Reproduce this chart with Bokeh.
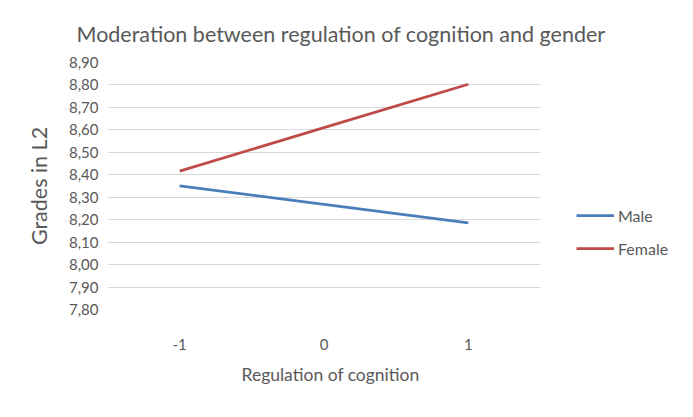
from bokeh.plotting import figure
from bokeh.models import (Range1d, FixedTicker, CustomJSTickFormatter,
                          Legend, LegendItem, BoxAnnotation, Title)
from bokeh.embed import file_html
from bokeh.resources import INLINE

x_values = [-1, 0, 1]
x_labels = ["-1", "0", "1"]
male = [8.351, 8.268, 8.186]
female = [8.416, 8.610, 8.803]
y_ticks = [7.80, 7.90, 8.00, 8.10, 8.20, 8.30, 8.40, 8.50, 8.60, 8.70, 8.80, 8.90]
title_text = "Moderation between regulation of cognition and gender"
x_title = "Regulation of cognition"
y_title = "Grades in L2"

FONT = "Lato"
TXT = "#595959"

# category slots: -1.5 .. 1.5 is the plotting area; the frame is extended
# to the right (up to 2.449) only to host the legend.
p = figure(width=677, height=401, output_backend="svg", toolbar_location=None,
           x_range=Range1d(-1.5, 2.449),
           y_range=Range1d(y_ticks[0], y_ticks[-1]),
           min_border_left=107, min_border_right=0,
           min_border_top=62, min_border_bottom=92)
p.outline_line_color = None
p.background_fill_color = "white"
p.border_fill_color = "white"

p.title.text = title_text
p.title.align = "left"
p.title.text_font = FONT
p.title.text_font_size = "21.5px"
p.title.text_font_style = "normal"
p.title.text_color = TXT
p.title.offset = -31
p.title.standoff = 32

p.xgrid.grid_line_color = None
p.ygrid.grid_line_color = "#d9d9d9"
p.ygrid.grid_line_width = 1
p.yaxis.ticker = FixedTicker(ticks=y_ticks)
p.yaxis.formatter = CustomJSTickFormatter(code="return tick.toFixed(2).replace('.', ',');")
p.xaxis.ticker = FixedTicker(ticks=x_values)
p.xaxis.major_label_overrides = {v: s for v, s in zip(x_values, x_labels)}

for ax in (p.xaxis[0], p.yaxis[0]):
    ax.axis_line_color = None
    ax.major_tick_line_color = None
    ax.minor_tick_line_color = None
    ax.major_tick_out = 0
    ax.major_tick_in = 0
    ax.major_label_text_font = FONT
    ax.major_label_text_font_size = "15px"
    ax.major_label_text_color = TXT
    ax.axis_label_text_font = FONT
    ax.axis_label_text_font_style = "normal"
    ax.axis_label_text_color = TXT

p.yaxis.axis_label = y_title
p.yaxis.axis_label_text_font_size = "21.5px"
p.yaxis.major_label_standoff = 9
p.xaxis.major_label_standoff = 29
p.yaxis.axis_label_standoff = 14

# x-axis title, centred under the plotting area (not the extended frame)
xt = Title(text=x_title, align="left", offset=134, standoff=19,
           text_font=FONT, text_font_size="17.5px", text_font_style="normal",
           text_color=TXT)
p.add_layout(xt, "below")

# white cover: gridlines stop at the right edge of the plotting area
p.add_layout(BoxAnnotation(left=1.5, fill_color="white", fill_alpha=1,
                           line_color=None, level="underlay"))

r_m = p.line(x_values, male, line_color="#4a7ebb", line_width=2.75)
r_f = p.line(x_values, female, line_color="#be4b48", line_width=2.75)

legend = Legend(items=[LegendItem(label="Male", renderers=[r_m]),
                       LegendItem(label="Female", renderers=[r_f])],
                location=(469, 51), orientation="vertical",
                glyph_width=38, glyph_height=20, label_height=20, spacing=13,
                padding=0, margin=0, label_standoff=4,
                border_line_color=None, background_fill_alpha=0,
                label_text_font=FONT, label_text_font_size="16px", label_text_color=TXT)
p.add_layout(legend, "center")

open("out.html", "w").write(file_html(p, INLINE))
